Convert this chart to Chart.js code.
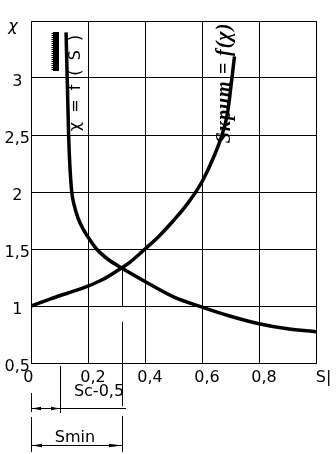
<!DOCTYPE html>
<html>
<head>
<meta charset="utf-8">
<script src="https://cdn.jsdelivr.net/npm/chart.js@4.4.1/dist/chart.umd.min.js"></script>
<style>
  html, body { margin: 0; padding: 0; background: #fff; }
  #wrap { width: 336px; height: 454px; }
</style>
</head>
<body>
<div id="wrap"><canvas id="chart" width="336" height="454"></canvas></div>
<script>
// tick labels
const xTickLabels = ['0   ', '0,2', '0,4', '0,6', '0,8', ' S|'];
const yTickLabels = ['0,5', '1', '1,5', '2', '2,5', '3', ''];

// χ = f(S) - falling curve
const fallS   = [0.123, 0.126, 0.129, 0.132, 0.136, 0.143, 0.152, 0.165, 0.184, 0.2, 0.23, 0.27, 0.318, 0.4, 0.5, 0.6, 0.7, 0.8, 0.9, 1.0];
const fallChi = [3.4, 3.1, 2.8, 2.5, 2.25, 2.0, 1.88, 1.77, 1.67, 1.605, 1.5, 1.41, 1.333, 1.215, 1.08, 0.99, 0.91, 0.845, 0.8, 0.775];

// Sкрит = f(χ) - rising curve
const riseS   = [0, 0.05, 0.1, 0.15, 0.2, 0.25, 0.3, 0.35, 0.4, 0.45, 0.5, 0.55, 0.6, 0.64, 0.67, 0.69, 0.705, 0.714];
const riseChi = [1.0, 1.045, 1.09, 1.13, 1.175, 1.23, 1.305, 1.39, 1.5, 1.615, 1.75, 1.9, 2.09, 2.3, 2.5, 2.7, 3.0, 3.19];

// marked values on the S axis
const sC = 0.1;
const sMin = 0.318;
const crossChi = 1.333;

const FONT = "'DejaVu Sans', sans-serif";

function toPoints(xs, ys) {
    return xs.map((v, i) => ({ x: v, y: ys[i] }));
}

function arrow(ctx, tipX, y, dir, len) {
    // dir -1 = points left, +1 = points right
    ctx.beginPath();
    ctx.moveTo(tipX, y);
    ctx.lineTo(tipX - dir * len, y - 1.8);
    ctx.lineTo(tipX - dir * len, y + 1.8);
    ctx.closePath();
    ctx.fill();
}

function vline(ctx, x, y1, y2) {
    ctx.beginPath();
    ctx.moveTo(x, y1);
    ctx.lineTo(x, y2);
    ctx.stroke();
}

function hline(ctx, x1, x2, y) {
    ctx.beginPath();
    ctx.moveTo(x1, y);
    ctx.lineTo(x2, y);
    ctx.stroke();
}

const drawingNotes = {
    id: 'drawingNotes',
    afterDatasetsDraw(chart) {
        const { ctx, scales: { x, y } } = chart;
        const px = v => Math.round(x.getPixelForValue(v)) + 0.5;
        const x0 = px(0), xc = px(sC), xm = px(sMin);

        ctx.save();
        ctx.strokeStyle = '#000';
        ctx.fillStyle = '#000';
        ctx.lineWidth = 1;

        // Smin extension line (broken)
        vline(ctx, xm, y.getPixelForValue(crossChi), y.getPixelForValue(1) + 1);
        vline(ctx, xm, y.getPixelForValue(0.86), 406);
        vline(ctx, xm, 416, 452);

        // Sc extension + left extension
        vline(ctx, xc, 366, 413);
        vline(ctx, x0, 393, 412);
        vline(ctx, x0, 417, 452);

        // Sc-0,5 dimension
        hline(ctx, x0, 126, 408.5);
        arrow(ctx, x0 + 0.5, 408.5, -1, 9);
        arrow(ctx, xc - 0.5, 408.5, 1, 9);

        // Smin dimension
        hline(ctx, x0, xm, 445.5);
        arrow(ctx, x0 + 0.5, 445.5, -1, 10);
        arrow(ctx, xm - 0.5, 445.5, 1, 13);

        ctx.font = '16px ' + FONT;
        ctx.textAlign = 'center';
        ctx.textBaseline = 'middle';
        ctx.fillText('Sc-0,5', 99, 392);
        ctx.fillText('Smin', 75, 438);

        // axis name at the top of the χ axis
        ctx.font = 'italic 16px ' + FONT;
        ctx.fillText('χ', 13, 27);

        // hatched block by the curve top
        ctx.fillRect(53, 32, 6, 39);
        for (let yy = 33; yy < 71; yy += 2) ctx.fillRect(51.5, yy, 1.5, 1);

        // curve captions
        ctx.save();
        ctx.translate(76, 82);
        ctx.rotate(-Math.PI / 2);
        ctx.font = '16px ' + FONT;
        ctx.letterSpacing = '2px';
        ctx.fillText('χ = f ( S\u0305 )', 0, 0);
        ctx.restore();

        ctx.save();
        ctx.translate(225, 83);
        ctx.rotate(-Math.PI / 2);
        ctx.font = "bold italic 20px 'Liberation Serif', serif";
        ctx.letterSpacing = '1px';
        ctx.fillText('Sкрит = f(χ)', 0, 0);
        ctx.restore();

        ctx.restore();
    }
};

new Chart(document.getElementById('chart'), {
    type: 'scatter',
    data: {
        datasets: [
            {
                label: 'χ = f(S)',
                data: toPoints(fallS, fallChi),
                showLine: true,
                borderColor: '#000',
                borderWidth: 3.5,
                pointRadius: 0,
                cubicInterpolationMode: 'monotone'
            },
            {
                label: 'Sкрит = f(χ)',
                data: toPoints(riseS, riseChi),
                showLine: true,
                borderColor: '#000',
                borderWidth: 3.5,
                pointRadius: 0,
                cubicInterpolationMode: 'monotone'
            }
        ]
    },
    options: {
        responsive: false,
        animation: false,
        events: [],
        layout: { padding: { top: 21, right: 20, left: 0, bottom: 0 } },
        plugins: { legend: { display: false }, tooltip: { enabled: false } },
        scales: {
            x: {
                type: 'linear',
                min: 0,
                max: 1,
                afterFit: s => { s.height = 91; },
                grid: { color: '#000', lineWidth: 1, drawTicks: false },
                border: { color: '#000', width: 1 },
                ticks: {
                    stepSize: 0.2,
                    padding: 5,
                    labelOffset: 5,
                    maxRotation: 0,
                    autoSkip: false,
                    color: '#000',
                    font: { family: FONT, size: 16 },
                    callback: (v, i) => xTickLabels[i]
                }
            },
            y: {
                type: 'linear',
                min: 0.5,
                max: 3.5,
                afterFit: s => { s.width = 31; },
                grid: { color: '#000', lineWidth: 1, drawTicks: false },
                border: { color: '#000', width: 1 },
                ticks: {
                    stepSize: 0.5,
                    padding: 1,
                    labelOffset: 4,
                    crossAlign: 'center',
                    autoSkip: false,
                    color: '#000',
                    font: { family: FONT, size: 16 },
                    callback: (v, i) => yTickLabels[i]
                }
            }
        }
    },
    plugins: [drawingNotes]
});
</script>
</body>
</html>
